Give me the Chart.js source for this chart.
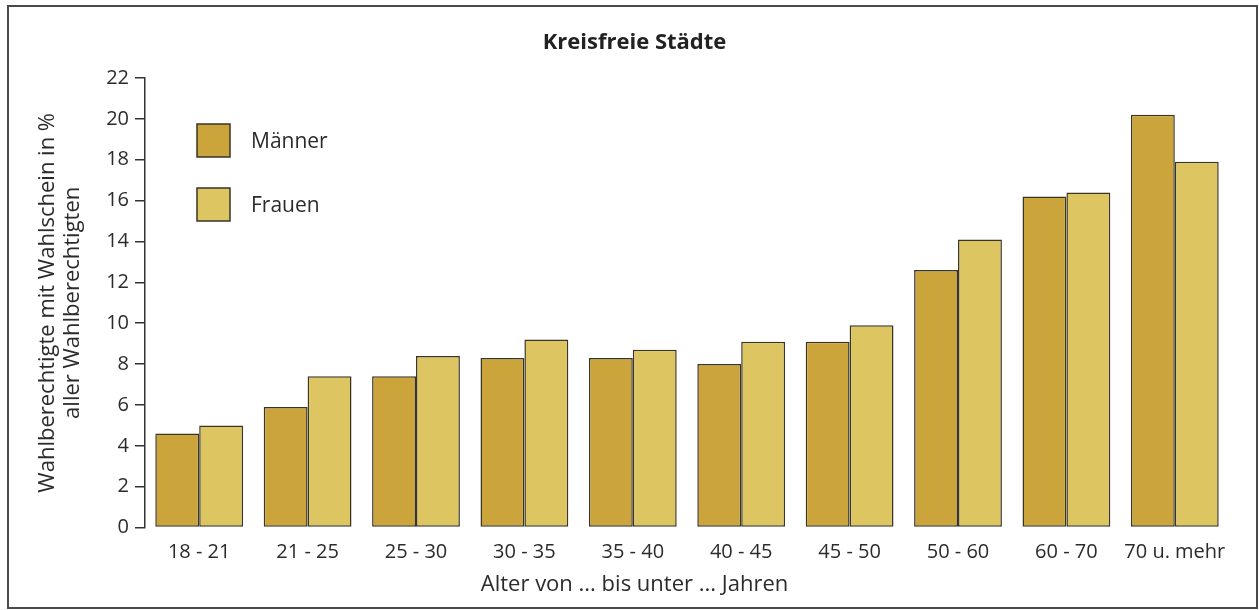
<!DOCTYPE html>
<html>
<head>
<meta charset="utf-8">
<script src="https://cdn.jsdelivr.net/npm/chart.js@4/dist/chart.umd.min.js"></script>
<style>
    html, body { margin: 0; padding: 0; background: #fff; }
    #wrap { width: 1259px; height: 610px; position: relative; }
</style>
</head>
<body>
<div id="wrap"><canvas id="chart"></canvas></div>
<script>
(function () {
    "use strict";

    // Data
    const ageGroups = ["18 - 21", "21 - 25", "25 - 30", "30 - 35", "35 - 40", "40 - 45", "45 - 50", "50 - 60", "60 - 70", "70 u. mehr"];
    const maenner = [4.6, 5.9, 7.4, 8.3, 8.3, 8.0, 9.1, 12.6, 16.2, 20.2];
    const frauen = [5.0, 7.4, 8.4, 9.2, 8.7, 9.1, 9.9, 14.1, 16.4, 17.9];
    const seriesNames = ["Männer", "Frauen"];
    const yTitle = ["Wahlberechtigte mit Wahlschein in %", "aller Wahlberechtigten"];
    const xTitle = "Alter von ... bis unter ... Jahren";
    const chartTitle = "Kreisfreie Städte";

    const FONT = "'Open Sans', 'Noto Sans', sans-serif";
    const TEXT = "#2b2b2b";
    const EDGE = "#3a3526";

    Chart.defaults.font.family = FONT;
    Chart.defaults.color = TEXT;

    // frame around the whole figure
    const framePlugin = {
        id: "frame",
        beforeDraw(chart) {
            const ctx = chart.ctx;
            ctx.save();
            ctx.fillStyle = "#fff";
            ctx.fillRect(0, 0, chart.width, chart.height);
            ctx.strokeStyle = "#4a4a4a";
            ctx.lineWidth = 2;
            ctx.strokeRect(8, 6, 1249, 602);
            ctx.restore();
        },
    };

    // legend drawn inside the plot, top-left
    const boxLegend = {
        id: "boxLegend",
        afterDraw(chart) {
            const ctx = chart.ctx;
            const area = chart.chartArea;
            ctx.save();
            chart.data.datasets.forEach((ds, i) => {
                const x = area.left + 52;
                const y = area.top + 46 + i * 64;
                ctx.fillStyle = ds.backgroundColor;
                ctx.fillRect(x, y, 33, 33);
                ctx.strokeStyle = EDGE;
                ctx.lineWidth = 1.5;
                ctx.strokeRect(x, y, 33, 33);
                ctx.fillStyle = TEXT;
                ctx.font = "21px " + FONT;
                ctx.textBaseline = "middle";
                ctx.fillText(ds.label, x + 54, y + 18);
            });
            ctx.restore();
        },
    };

    new Chart(document.getElementById("chart"), {
        type: "bar",
        data: {
            labels: ageGroups,
            datasets: [
                {
                    label: seriesNames[0],
                    data: maenner,
                    backgroundColor: "#CBA53C",
                    borderColor: EDGE,
                    borderWidth: 1.5,
                    borderSkipped: false,
                },
                {
                    label: seriesNames[1],
                    data: frauen,
                    backgroundColor: "#DDC661",
                    borderColor: EDGE,
                    borderWidth: 1.5,
                    borderSkipped: false,
                },
            ],
        },
        options: {
            responsive: true,
            maintainAspectRatio: false,
            animation: false,
            categoryPercentage: 0.81,
            barPercentage: 1.0,
            layout: {
                padding: { left: 40, right: 30, top: 20, bottom: 8 },
            },
            plugins: {
                legend: { display: false },
                tooltip: { enabled: false },
                title: {
                    display: true,
                    text: chartTitle,
                    color: "#222",
                    font: { size: 22, weight: "bold" },
                    padding: { top: 10, bottom: 21.6 },
                },
                subtitle: {
                    display: true,
                    position: "bottom",
                    text: xTitle,
                    color: TEXT,
                    font: { size: 22 },
                    padding: { top: 5, bottom: 4 },
                },
            },
            scales: {
                x: {
                    grid: { display: false },
                    border: { display: false },
                    ticks: {
                        font: { size: 20 },
                        padding: 5,
                        color: TEXT,
                        maxRotation: 0,
                        autoSkip: false,
                    },
                    afterFit: (scale) => { scale.height = 39; },
                },
                y: {
                    min: 0,
                    max: 22,
                    ticks: { stepSize: 2, font: { size: 20 }, padding: 6, color: TEXT },
                    grid: {
                        drawOnChartArea: false,
                        drawTicks: true,
                        tickLength: 10,
                        color: "#333",
                        lineWidth: 1.5,
                    },
                    border: { display: true, color: "#333", width: 1.5 },
                    title: {
                        display: true,
                        text: yTitle,
                        color: TEXT,
                        font: { size: 22, lineHeight: 1.1 },
                        padding: { top: -4, bottom: 0 },
                    },
                    afterFit: (scale) => { scale.width = 105; },
                },
            },
        },
        plugins: [framePlugin, boxLegend],
    });
})();
</script>
</body>
</html>
